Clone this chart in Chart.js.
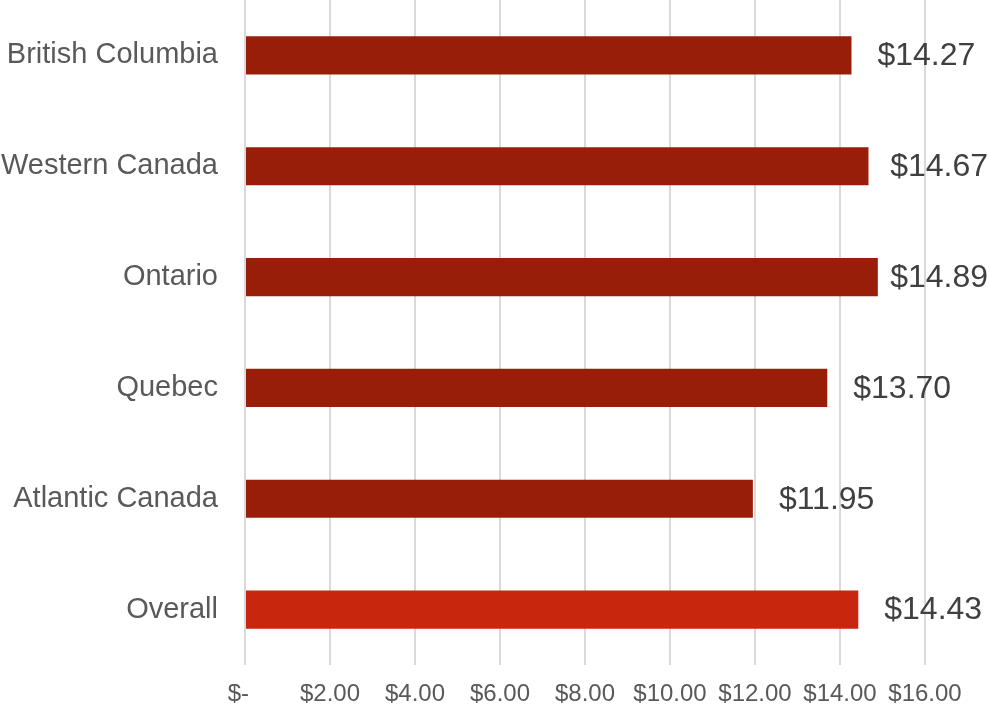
<!DOCTYPE html>
<html>
<head>
<meta charset="utf-8">
<script src="https://cdn.jsdelivr.net/npm/chart.js@4/dist/chart.umd.min.js"></script>
<style>
  html, body { margin: 0; padding: 0; background: #ffffff; }
  #wrap { width: 989px; height: 710px; position: relative; }
</style>
</head>
<body>
<div id="wrap"><canvas id="chart"></canvas></div>
<script>
const categories = ["British Columbia", "Western Canada", "Ontario", "Quebec", "Atlantic Canada", "Overall"];
const wages = [14.27, 14.67, 14.89, 13.70, 11.95, 14.43];
const xTicks = [0, 2, 4, 6, 8, 10, 12, 14, 16];

const fontFamily = "'Liberation Sans', Arial, sans-serif";
const regionColor = "#981E0A";
const overallColor = "#C9260E";

const formatDollar = (value) => (value === 0 ? "$-  " : `$${value.toFixed(2)}`);

// draws the value text just past the end of each bar, pushed back in if it would run off the right edge
const valueLabels = {
  id: "valueLabels",
  afterDatasetsDraw(chart) {
    const ctx = chart.ctx;
    const meta = chart.getDatasetMeta(0);
    ctx.save();
    ctx.font = `32px ${fontFamily}`;
    ctx.fillStyle = "#404040";
    ctx.textAlign = "left";
    ctx.textBaseline = "middle";
    meta.data.forEach((bar, i) => {
      const text = formatDollar(wages[i]);
      const width = ctx.measureText(text).width;
      const x = Math.min(bar.x + 26, chart.width - width - 1);
      ctx.fillText(text, x, bar.y + 1);
    });
    ctx.restore();
  },
};

new Chart(document.getElementById("chart"), {
  type: "bar",
  data: {
    labels: categories,
    datasets: [
      {
        data: wages,
        backgroundColor: categories.map((c) => (c === "Overall" ? overallColor : regionColor)),
        barPercentage: 0.345,
        categoryPercentage: 1,
      },
    ],
  },
  options: {
    indexAxis: "y",
    animation: false,
    responsive: true,
    maintainAspectRatio: false,
    layout: {
      padding: { top: 0, right: 64, bottom: 0, left: 0 },
    },
    scales: {
      x: {
        min: 0,
        max: 16,
        afterBuildTicks: (axis) => {
          axis.ticks = xTicks.map((v) => ({ value: v }));
        },
        afterFit: (axis) => {
          axis.height = 45;
          axis.paddingLeft = 0;
          axis.paddingRight = 0;
        },
        border: { display: false },
        grid: {
          color: "#d9d9d9",
          lineWidth: 2,
          drawTicks: false,
        },
        ticks: {
          padding: 15,
          color: "#595959",
          font: { family: fontFamily, size: 24 },
          maxRotation: 0,
          autoSkip: false,
          callback: (value) => formatDollar(value),
        },
      },
      y: {
        afterFit: (axis) => {
          axis.width = 245;
          axis.paddingTop = 0;
          axis.paddingBottom = 0;
        },
        border: { display: false },
        grid: { display: false, drawTicks: false },
        ticks: {
          padding: 27,
          color: "#595959",
          font: { family: fontFamily, size: 29 },
        },
      },
    },
    plugins: {
      legend: { display: false },
      tooltip: { enabled: false },
    },
  },
  plugins: [valueLabels],
});
</script>
</body>
</html>
